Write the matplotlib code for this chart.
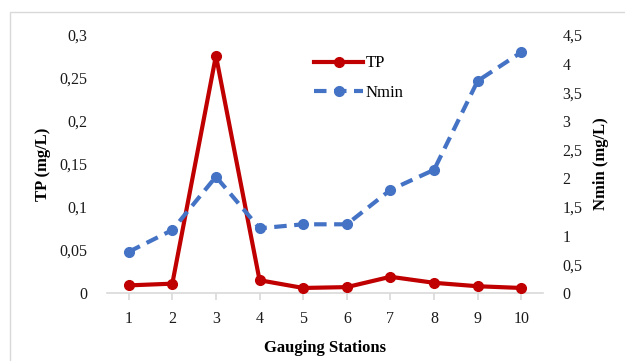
import matplotlib
matplotlib.use('Agg')
import matplotlib.pyplot as plt
from matplotlib.patches import Rectangle
from matplotlib.ticker import FuncFormatter

# data
stations = [1, 2, 3, 4, 5, 6, 7, 8, 9, 10]
tp = [0.009, 0.011, 0.276, 0.015, 0.006, 0.007, 0.019, 0.012, 0.008, 0.006]
nmin = [0.72, 1.10, 2.03, 1.13, 1.20, 1.20, 1.80, 2.15, 3.70, 4.20]
tp_ticks = [0, 0.05, 0.1, 0.15, 0.2, 0.25, 0.3]
nmin_ticks = [0, 0.5, 1, 1.5, 2, 2.5, 3, 3.5, 4, 4.5]

red = '#C00000'
blue = '#4472C4'

plt.rcParams['font.family'] = ['Liberation Serif', 'DejaVu Serif']


def comma(v, pos):
	s = ('%g' % v).replace('.', ',')
	return s


fig = plt.figure(figsize=(6.25, 3.61), dpi=100)
fig.patches.append(Rectangle((0.016, -0.1), 1.1, 1.067, transform=fig.transFigure,
							 fill=False, edgecolor='#d9d9d9', linewidth=1))

ax = fig.add_axes([0.171, 0.188, 0.698, 0.715])
ax2 = ax.twinx()

l1, = ax.plot(stations, tp, color=red, lw=3, marker='o', markersize=7, label='TP', zorder=3)
l2, = ax2.plot(stations, nmin, color=blue, lw=3, ls=(0, (3, 1.8)), marker='o', markersize=7,
			   label='Nmin')

ax.set_xlim(0.5, 10.5)
ax.set_ylim(0, 0.3)
ax2.set_ylim(0, 4.5)
ax.set_xticks(stations)
ax.set_yticks(tp_ticks)
ax2.set_yticks(nmin_ticks)
ax.yaxis.set_major_formatter(FuncFormatter(comma))
ax2.yaxis.set_major_formatter(FuncFormatter(comma))

for a in (ax, ax2):
	for s in ('top', 'left', 'right'):
		a.spines[s].set_visible(False)
	a.spines['bottom'].set_color('#d9d9d9')
	a.spines['bottom'].set_linewidth(1.2)
	a.tick_params(labelsize=11.5, colors='#404040')
ax.tick_params(axis='y', length=0, pad=14)
ax2.tick_params(axis='y', length=0, pad=14)
ax.tick_params(axis='x', length=5, color='#d9d9d9', width=1.2, pad=8)
ax2.spines['bottom'].set_visible(False)
ax.tick_params(axis='x', labelcolor='#1a1a1a')
ax.tick_params(axis='y', labelcolor='#1a1a1a')
ax2.tick_params(axis='y', labelcolor='#1a1a1a')

ax.set_xlabel('Gauging Stations', fontsize=12, fontweight='bold', labelpad=9)
ax.set_ylabel('TP (mg/L)', fontsize=12, fontweight='bold')
ax2.set_ylabel('Nmin (mg/L)', fontsize=12, fontweight='bold')
ax.yaxis.set_label_coords(-0.127, 0.5)
ax2.yaxis.set_label_coords(1.114, 0.5)

leg = ax.legend(handles=[l1, l2], loc='upper left', bbox_to_anchor=(0.456, 0.953),
				frameon=False, fontsize=12, handlelength=2.95, handletextpad=0.15,
				labelspacing=0.8, borderpad=0)

fig.savefig('out.png', dpi=100)
